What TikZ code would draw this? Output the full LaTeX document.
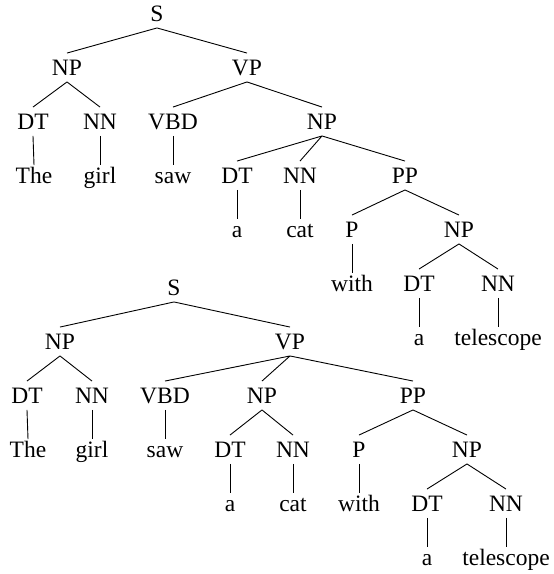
\documentclass[tikz,border=0pt]{standalone}
\usepackage{fontspec}
\setmainfont{Liberation Serif}
\usepackage{tikz}
\usetikzlibrary{positioning}
\tikzstyle{edge} = [line width=0.9pt]

\begin{document}
\begin{tikzpicture}[
    x=1pt, y=-1pt,
    phrase/.style={inner xsep=1pt, inner ysep=6.5pt, text height=15.5pt, text depth=0pt, font=\fontsize{23.5}{28}\selectfont},
    word/.style={inner xsep=1pt, inner ysep=2.5pt, text height=15.5pt, text depth=0pt, font=\fontsize{23.5}{28}\selectfont},
]
\useasboundingbox (0,0) rectangle (554,574);

% First tree: PP attached to the object NP
\node[phrase] (s1) at (157, 13.5) {S};
\node[phrase] (np1) at (67, 67.5) {NP};
\node[phrase] (vp1) at (247, 67.5) {VP};
\node[phrase] (dt1a) at (33, 121.5) {DT};
\node[phrase] (nn1a) at (100, 121.5) {NN};
\node[phrase] (vbd1) at (173, 121.5) {VBD};
\node[phrase] (np1b) at (322, 121.5) {NP};
\node[word] (the1) at (34, 175.5) {The};
\node[word] (girl1) at (100, 175.5) {girl};
\node[word] (saw1) at (173, 175.5) {saw};
\node[phrase] (dt1b) at (237, 175.5) {DT};
\node[phrase] (nn1b) at (300, 175.5) {NN};
\node[phrase] (pp1) at (405, 175.5) {PP};
\node[word] (a1a) at (237, 229.5) {a};
\node[word] (cat1) at (300, 229.5) {cat};
\node[phrase] (p1) at (352, 229.5) {P};
\node[phrase] (np1c) at (459, 229.5) {NP};
\node[word] (with1) at (352, 283.5) {with};
\node[phrase] (dt1c) at (419, 283.5) {DT};
\node[phrase] (nn1c) at (498, 283.5) {NN};
\node[word] (a1b) at (419, 337.5) {a};
\node[word] (tel1) at (498, 337.5) {telescope};

\draw[edge] (s1.south) -- (np1.north) (s1.south) -- (vp1.north);
\draw[edge] (np1.south) -- (dt1a.north) (np1.south) -- (nn1a.north);
\draw[edge] (vp1.south) -- (vbd1.north) (vp1.south) -- (np1b.north);
\draw[edge] (dt1a.south) -- (the1.north);
\draw[edge] (nn1a.south) -- (girl1.north);
\draw[edge] (vbd1.south) -- (saw1.north);
\draw[edge] (np1b.south) -- (dt1b.north) (np1b.south) -- (nn1b.north) (np1b.south) -- (pp1.north);
\draw[edge] (dt1b.south) -- (a1a.north);
\draw[edge] (nn1b.south) -- (cat1.north);
\draw[edge] (pp1.south) -- (p1.north) (pp1.south) -- (np1c.north);
\draw[edge] (p1.south) -- (with1.north);
\draw[edge] (np1c.south) -- (dt1c.north) (np1c.south) -- (nn1c.north);
\draw[edge] (dt1c.south) -- (a1b.north);
\draw[edge] (nn1c.south) -- (tel1.north);

% Second tree: PP attached to the VP
\node[phrase] (s2) at (174, 287.5) {S};
\node[phrase] (np2) at (60, 341.5) {NP};
\node[phrase] (vp2) at (290, 341.5) {VP};
\node[phrase] (dt2a) at (27, 395.5) {DT};
\node[phrase] (nn2a) at (92, 395.5) {NN};
\node[phrase] (vbd2) at (165, 395.5) {VBD};
\node[phrase] (np2b) at (262, 395.5) {NP};
\node[phrase] (pp2) at (413, 395.5) {PP};
\node[word] (the2) at (28, 449.5) {The};
\node[word] (girl2) at (92, 449.5) {girl};
\node[word] (saw2) at (165, 449.5) {saw};
\node[phrase] (dt2b) at (230, 449.5) {DT};
\node[phrase] (nn2b) at (293, 449.5) {NN};
\node[phrase] (p2) at (359, 449.5) {P};
\node[phrase] (np2c) at (467, 449.5) {NP};
\node[word] (a2a) at (230, 503.5) {a};
\node[word] (cat2) at (293, 503.5) {cat};
\node[word] (with2) at (359, 503.5) {with};
\node[phrase] (dt2c) at (427, 503.5) {DT};
\node[phrase] (nn2c) at (506, 503.5) {NN};
\node[word] (a2b) at (427, 557.5) {a};
\node[word] (tel2) at (506, 557.5) {telescope};

\draw[edge] (s2.south) -- (np2.north) (s2.south) -- (vp2.north);
\draw[edge] (np2.south) -- (dt2a.north) (np2.south) -- (nn2a.north);
\draw[edge] (vp2.south) -- (vbd2.north) (vp2.south) -- (np2b.north) (vp2.south) -- (pp2.north);
\draw[edge] (dt2a.south) -- (the2.north);
\draw[edge] (nn2a.south) -- (girl2.north);
\draw[edge] (vbd2.south) -- (saw2.north);
\draw[edge] (np2b.south) -- (dt2b.north) (np2b.south) -- (nn2b.north);
\draw[edge] (pp2.south) -- (p2.north) (pp2.south) -- (np2c.north);
\draw[edge] (dt2b.south) -- (a2a.north);
\draw[edge] (nn2b.south) -- (cat2.north);
\draw[edge] (p2.south) -- (with2.north);
\draw[edge] (np2c.south) -- (dt2c.north) (np2c.south) -- (nn2c.north);
\draw[edge] (dt2c.south) -- (a2b.north);
\draw[edge] (nn2c.south) -- (tel2.north);

\end{tikzpicture}
\end{document}
